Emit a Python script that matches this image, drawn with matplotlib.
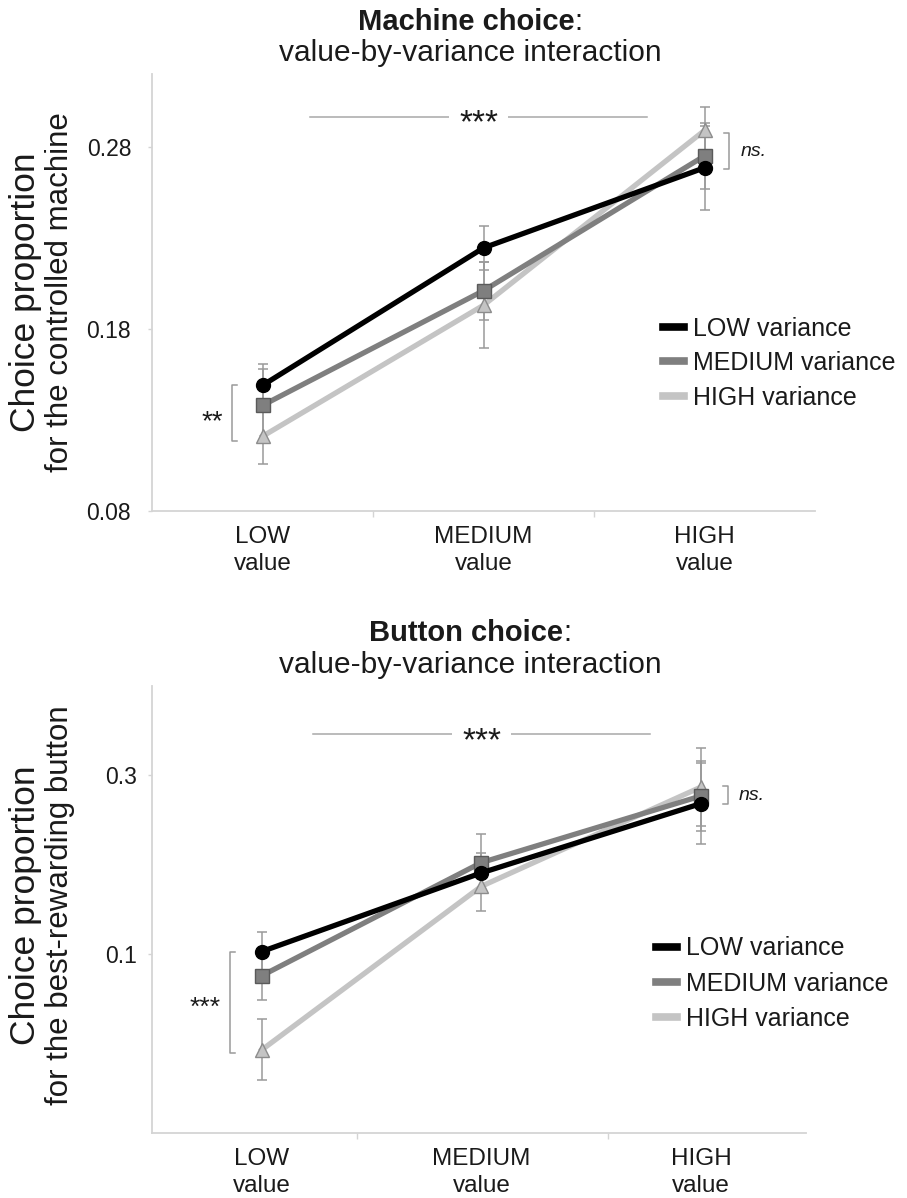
import matplotlib
matplotlib.use('Agg')
import matplotlib.pyplot as plt
import numpy as np
from matplotlib.lines import Line2D

plt.rcParams['font.family'] = ['Liberation Sans', 'DejaVu Sans']

# categories on the x axis
value_labels = ['LOW\nvalue', 'MEDIUM\nvalue', 'HIGH\nvalue']
variance_names = ['LOW variance', 'MEDIUM variance', 'HIGH variance']

# machine choice (top panel): mean and error per variance level
machine_low = [0.149, 0.2245, 0.2685]
machine_med = [0.138, 0.201, 0.275]
machine_high = [0.121, 0.193, 0.289]
machine_low_err = [0.012, 0.012, 0.023]
machine_med_err = [0.020, 0.016, 0.018]
machine_high_err = [0.015, 0.0235, 0.013]

# button choice (bottom panel)
button_low = [0.103, 0.191, 0.2685]
button_med = [0.076, 0.2025, 0.277]
button_high = [-0.007, 0.176, 0.287]
button_low_err = [0.0216, 0.022, 0.045]
button_med_err = [0.027, 0.032, 0.039]
button_high_err = [0.034, 0.028, 0.044]

colors = ['#000000', '#7f7f7f', '#c4c4c4']
edges = ['#000000', '#5a5a5a', '#8c8c8c']
markers = ['o', 's', '^']
msizes = [10, 9.5, 10.5]
txt = '#1a1a1a'
spine_c = '#d4d4d4'

W, H = 907, 1198
fig = plt.figure(figsize=(W / 100, H / 100), dpi=100)


def px_axes(x0, y0, x1, y1):
    return fig.add_axes([x0 / W, 1 - y1 / H, (x1 - x0) / W, (y1 - y0) / H])


def draw_panel(ax, series, errs, xlim, ylim, yticks, ytick_labels, minor, ypad):
    x = np.arange(3)
    # error bars behind everything
    for i in [2, 1, 0]:
        ax.errorbar(x, series[i], yerr=errs[i], fmt='none', ecolor='#9a9a9a',
                    elinewidth=1.1, capsize=3.5, capthick=1.1, zorder=1)
    for i in [2, 1, 0]:
        ax.plot(x, series[i], color=colors[i], lw=3.8, marker=markers[i],
                ms=msizes[i], mfc=colors[i], mec=edges[i], mew=1.0, zorder=3 + (2 - i))
    ax.set_xlim(*xlim)
    ax.set_ylim(*ylim)
    ax.set_xticks(x)
    ax.set_xticklabels(value_labels, fontsize=17.5, color=txt, linespacing=1.3)
    ax.set_xticks(minor, minor=True)
    ax.tick_params(axis='x', which='major', length=0, pad=11)
    ax.tick_params(axis='x', which='minor', length=4, color=spine_c, width=1)
    ax.set_yticks(yticks)
    ax.set_yticklabels(ytick_labels, fontsize=16.5, color=txt)
    ax.tick_params(axis='y', length=3, color=spine_c, width=1, pad=ypad)
    for s in ['top', 'right']:
        ax.spines[s].set_visible(False)
    for s in ['left', 'bottom']:
        ax.spines[s].set_color(spine_c)
        ax.spines[s].set_linewidth(1.3)
    handles = [Line2D([], [], color=colors[i], lw=5.5) for i in range(3)]
    return handles


def sig_line(ax, x0, x1, y, label, dy):
    ax.plot([x0, x1], [y, y], color='#a8a8a8', lw=1.1, zorder=1)
    ax.text((x0 + x1) / 2, y - dy, label, ha='center', va='center', fontsize=24,
            color=txt, zorder=2, bbox=dict(boxstyle='square,pad=0.3', fc='white', ec='none'))


def bracket(ax, x, y0, y1, arm, label, lx, ly, fs, style='normal', ha='center'):
    ax.plot([x + arm, x, x, x + arm], [y0, y0, y1, y1], color='#9a9a9a', lw=1.1)
    ax.text(lx, ly, label, ha=ha, va='center', fontsize=fs, color=txt, style=style)


# ---- top panel: machine choice
ax1 = px_axes(152, 74, 815, 511)
h = draw_panel(ax1, [machine_low, machine_med, machine_high],
               [machine_low_err, machine_med_err, machine_high_err],
               (-0.5, 2.5), (0.08, 0.32), [0.08, 0.18, 0.28], ['0.08', '0.18', '0.28'],
               [0.5, 1.5], 12)
sig_line(ax1, 0.217, 1.742, 0.2964, '***', 0.004)
bracket(ax1, -0.14, 0.149, 0.1184, 0.025, '**', -0.226, 0.1290, 20)
bracket(ax1, 2.113, 0.2876, 0.2676, -0.025, 'ns.', 2.165, 0.2777, 14, style='italic', ha='left')
ax1.legend(h, variance_names, loc='upper left', bbox_to_anchor=(0.771, 0.445),
           frameon=False, fontsize=18, handlelength=0.85, handletextpad=0.35,
           labelspacing=0.42, borderpad=0, borderaxespad=0, labelcolor=txt)

# ---- bottom panel: button choice
ax2 = px_axes(152, 686, 806, 1133)
h = draw_panel(ax2, [button_low, button_med, button_high],
               [button_low_err, button_med_err, button_high_err],
               (-0.5, 2.478), (-0.1, 0.4), [0.1, 0.3], ['0.1', '0.3'],
               [0.433, 1.576], 8)
sig_line(ax2, 0.235, 1.768, 0.346, '***', 0.008)
bracket(ax2, -0.146, 0.103, -0.011, 0.025, '***', -0.26, 0.040, 19)
bracket(ax2, 2.123, 0.2885, 0.2675, -0.025, 'ns.', 2.17, 0.2778, 14, style='italic', ha='left')
ax2.legend(h, variance_names, loc='upper left', bbox_to_anchor=(0.771, 0.440),
           frameon=False, fontsize=18, handlelength=0.85, handletextpad=0.35,
           labelspacing=0.45, borderpad=0, borderaxespad=0, labelcolor=txt)

# ---- titles
for title, yb, ys in [('Machine choice', 22, 53), ('Button choice', 633, 665)]:
    t = fig.text(466 / W, 1 - yb / H, title, ha='center', va='center',
                 fontsize=21, fontweight='bold', color=txt)
    ax1.annotate(':', xy=(1, 0), xycoords=t, ha='left', va='bottom',
                 fontsize=21, color=txt, annotation_clip=False)
    fig.text(470 / W, 1 - ys / H, 'value-by-variance interaction', ha='center',
             va='center', fontsize=21.5, color=txt)

# ---- y labels
for l1, l2, yc in [('Choice proportion', 'for the controlled machine', 292),
                   ('Choice proportion', 'for the best-rewarding button', 905)]:
    fig.text(26 / W, 1 - yc / H, l1, rotation=90, ha='center', va='center',
             fontsize=25.5, color=txt)
    fig.text(60 / W, 1 - yc / H, l2, rotation=90, ha='center', va='center',
             fontsize=22.5, color=txt)

fig.savefig('out.png', dpi=100)
